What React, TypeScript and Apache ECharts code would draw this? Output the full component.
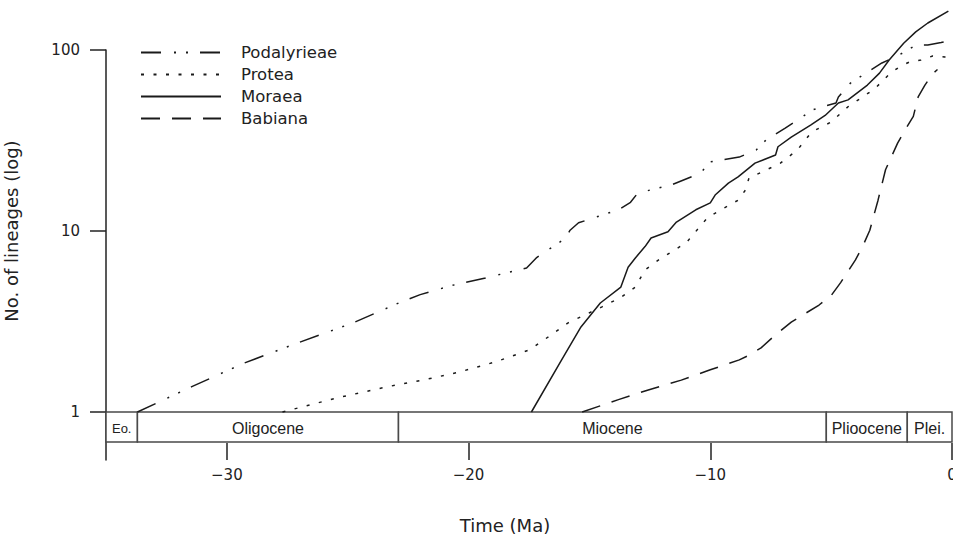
import React, { useEffect, useRef } from 'react';
import * as echarts from 'echarts';

// ---------- data (time in Ma, lineages) ----------
const seriesNames = ['Podalyrieae', 'Protea', 'Moraea', 'Babiana'];

const podalyrieae: [number, number][] = [
  [-33.7, 1], [-31.45, 1.38], [-29.3, 1.86], [-27.1, 2.4], [-24.8, 3.1], [-22.8, 4.05],
  [-22.0, 4.45], [-20.7, 5.0], [-19.3, 5.5], [-17.6, 6.25], [-17.2, 7.1], [-16.0, 9.1],
  [-15.8, 10.1], [-15.45, 11.1], [-13.8, 13.1], [-13.3, 14.4], [-13.0, 16.2], [-11.6, 18],
  [-10.4, 20.9], [-10.0, 24.1], [-8.8, 25.6], [-8.1, 28], [-7.7, 31.8], [-6.9, 37],
  [-6.2, 42.6], [-5.8, 46.6], [-4.8, 51], [-4.7, 55], [-4.2, 65.7], [-2.9, 84.8],
  [-2.36, 91.5], [-1.94, 97.8], [-1.5, 106.6], [-1.0, 106.6], [-0.45, 110], [-0.3, 111],
];

const protea: [number, number][] = [
  [-27.7, 1], [-25.4, 1.2], [-23.35, 1.38], [-21.9, 1.5], [-20.4, 1.66], [-18.9, 1.89],
  [-17.5, 2.2], [-16.7, 2.6], [-15.9, 3.1], [-14.5, 3.8], [-13.7, 4.3], [-13.1, 4.9],
  [-12.7, 6.1], [-12.15, 6.9], [-11.45, 7.9], [-11.0, 8.6], [-10.1, 11.9], [-8.85, 14.8],
  [-8.55, 16.8], [-8.4, 19.6], [-7.1, 23.7], [-6.4, 28], [-5.8, 35.3], [-5.0, 40],
  [-4.3, 48.6], [-3.2, 61], [-2.55, 74.5], [-2.15, 81], [-1.75, 86], [-1.28, 88],
  [-0.8, 92.6], [-0.3, 91.5], [0, 94],
];

const moraea: [number, number][] = [
  [-17.4, 1], [-16.15, 1.94], [-15.35, 2.95], [-14.55, 4.0], [-13.7, 4.9], [-13.4, 6.3],
  [-13.1, 7.1], [-12.7, 8.2], [-12.45, 9.15], [-11.75, 9.9], [-11.4, 11.2], [-10.6, 13.1],
  [-10.0, 14.3], [-9.8, 15.8], [-9.25, 18.4], [-8.85, 19.9], [-8.15, 23.7], [-7.3, 26.3],
  [-7.2, 29.2], [-6.65, 33], [-5.85, 38.5], [-5.25, 43.5], [-4.7, 51], [-4.3, 53],
  [-3.5, 64], [-3.0, 74.5], [-2.6, 88], [-2.0, 109], [-1.5, 126], [-1.0, 141], [-0.15, 164],
];

const babiana: [number, number][] = [
  [-15.3, 1], [-13.8, 1.17], [-12.6, 1.32], [-11.2, 1.5], [-10.0, 1.71], [-8.8, 1.94],
  [-8.4, 2.06], [-7.9, 2.26], [-7.4, 2.6], [-6.65, 3.14], [-5.5, 3.9], [-5.0, 4.4],
  [-4.6, 5.2], [-4.0, 6.9], [-3.7, 8.2], [-3.4, 10.1], [-3.06, 14.8], [-2.75, 21.8],
  [-2.25, 30.6], [-1.95, 36], [-1.6, 43], [-1.4, 55], [-1.12, 64], [-0.8, 74], [-0.6, 78],
];

const xTicks = [-30, -20, -10, 0];
const epochNames = ['Eo.', 'Oligocene', 'Miocene', 'Plioocene', 'Plei.'];
const epochStart = [-35, -33.7, -22.9, -5.2, -1.85];
const epochEnd = [-33.7, -22.9, -5.2, -1.85, 0];

// ---------- styling ----------
const INK = '#1a1a1a';
const AXIS = '#222';
const BAR = '#4a4a4a';
const FONT = 'DejaVu Sans';
const dashes: Record<string, number[] | 'solid'> = {
  Podalyrieae: [20, 13, 2, 10, 2, 12],
  Protea: [3, 9.5],
  Moraea: 'solid',
  Babiana: [19, 12],
};

export default function App() {
  const ref = useRef<HTMLDivElement>(null);

  useEffect(() => {
    document.body.style.margin = '0';
    document.body.style.overflow = 'hidden';
    document.documentElement.style.overflow = 'hidden';
    const chart = echarts.init(ref.current!, null, { renderer: 'svg' });
    const dataSets = [podalyrieae, protea, moraea, babiana];

    const lineSeries = seriesNames.map((name, i) => ({
      name,
      type: 'line',
      xAxisIndex: 0,
      yAxisIndex: 0,
      data: dataSets[i],
      symbol: 'none',
      showSymbol: false,
      clip: false,
      lineStyle: { color: INK, width: 1.5, type: dashes[name], cap: 'butt' },
      itemStyle: { color: INK },
    }));

    const option: any = {
      animation: false,
      backgroundColor: '#fff',
      grid: [
        { left: 106, right: 1, top: 50, height: 362, outerBoundsMode: 'none', containLabel: false },
        { left: 106, right: 1, top: 412, height: 48, outerBoundsMode: 'none', containLabel: false },
      ],
      xAxis: [
        { type: 'value', gridIndex: 0, min: -35, max: 0, show: false },
        {
          type: 'value',
          gridIndex: 1,
          min: -35,
          max: 0,
          position: 'bottom',
          axisLine: { show: false, onZero: false },
          splitLine: { show: false },
          axisTick: {
            show: true,
            inside: true,
            length: 17,
            customValues: xTicks,
            lineStyle: { color: AXIS, width: 1.5 },
          },
          axisLabel: {
            margin: 7,
            customValues: xTicks,
            color: AXIS,
            fontFamily: FONT,
            fontSize: 15,
            formatter: (v: number) => (v < 0 ? '\u2212' + Math.abs(v) : String(v)),
          },
        },
      ],
      yAxis: [
        {
          type: 'log',
          logBase: 10,
          gridIndex: 0,
          min: 1,
          max: 100,
          position: 'left',
          name: 'No. of lineages (log)',
          nameLocation: 'middle',
          nameGap: 86,
          nameTextStyle: { fontFamily: FONT, fontSize: 18, color: AXIS },
          axisLine: { show: true, onZero: false, lineStyle: { color: AXIS, width: 1.5 } },
          axisTick: { show: true, length: 16, lineStyle: { color: AXIS, width: 1.5 } },
          minorTick: { show: false },
          splitLine: { show: false },
          axisLabel: { margin: 26, color: AXIS, fontFamily: FONT, fontSize: 15 },
        },
        {
          type: 'value',
          gridIndex: 1,
          min: 0,
          max: 48,
          position: 'left',
          axisLine: { show: true, onZero: false, lineStyle: { color: AXIS, width: 1.5 } },
          axisTick: { show: false },
          axisLabel: { show: false },
          splitLine: { show: false },
        },
      ],
      legend: {
        data: seriesNames,
        orient: 'vertical',
        left: 135,
        top: 39,
        itemWidth: 80,
        itemHeight: 14,
        itemGap: 5,
        selectedMode: false,
        itemStyle: { color: 'rgba(0,0,0,0)', borderWidth: 0, opacity: 0 },
        textStyle: {
          fontFamily: FONT,
          fontSize: 16.5,
          color: AXIS,
          padding: [0, 0, 0, 15],
        },
      },
      graphic: [
        {
          type: 'text',
          x: 505,
          y: 525,
          style: {
            text: 'Time (Ma)',
            fontFamily: FONT,
            fontSize: 18,
            fill: AXIS,
            align: 'center',
            verticalAlign: 'middle',
            textAlign: 'center',
            textVerticalAlign: 'middle',
          },
        },
      ],
      series: [
        ...lineSeries,
        {
          type: 'custom',
          xAxisIndex: 1,
          yAxisIndex: 1,
          data: epochStart.map((s, i) => [s, epochEnd[i]]),
          encode: { x: [0, 1] },
          renderItem: (params: any, api: any) => {
            const i = params.dataIndex;
            const p1 = api.coord([api.value(0), 48]);
            const p2 = api.coord([api.value(1), 18]);
            const name = epochNames[i];
            return {
              type: 'group',
              children: [
                {
                  type: 'rect',
                  shape: { x: p1[0], y: p1[1], width: p2[0] - p1[0], height: p2[1] - p1[1] },
                  style: { fill: '#fff', stroke: BAR, lineWidth: 1.5 },
                },
                {
                  type: 'text',
                  x: (p1[0] + p2[0]) / 2,
                  y: (p1[1] + p2[1]) / 2 + 1,
                  style: {
                    text: name,
                    fontFamily: 'Liberation Sans',
                    fontSize: name === 'Eo.' ? 13 : 16,
                    fill: '#222',
                    align: 'center',
                    verticalAlign: 'middle',
                    textAlign: 'center',
                    textVerticalAlign: 'middle',
                  },
                },
              ],
            };
          },
        },
      ],
    };

    chart.setOption(option);
    return () => chart.dispose();
  }, []);

  return <div ref={ref} style={{ width: 953, height: 539, overflow: 'hidden' }} />;
}
